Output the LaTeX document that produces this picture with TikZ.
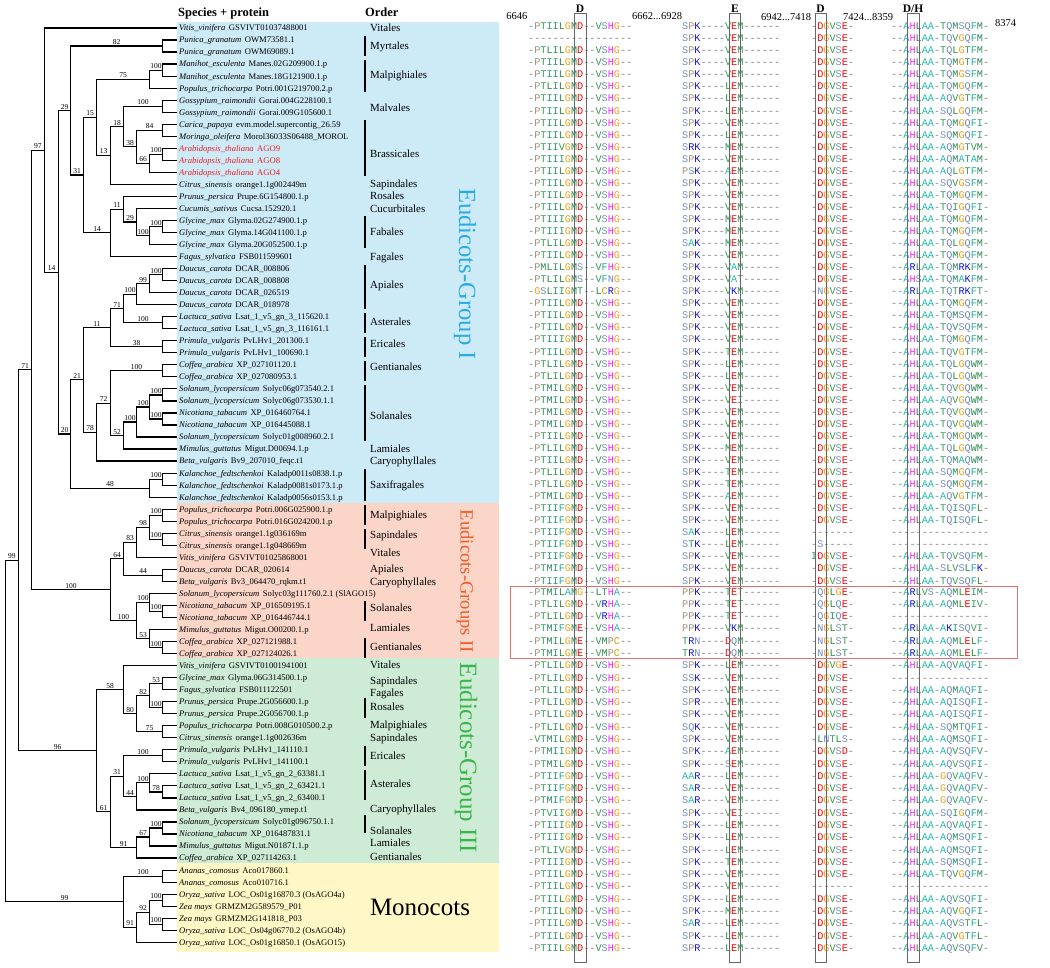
\documentclass[tikz,border=0pt]{standalone}
\usepackage{fontspec}
\setmainfont{Liberation Serif}
\newfontfamily\monofam{Liberation Mono}
\usetikzlibrary{calc}
\definecolor{bgI}{HTML}{CDEAF7}
\definecolor{bgII}{HTML}{FBD6C8}
\definecolor{bgIII}{HTML}{CEEBD6}
\definecolor{bgM}{HTML}{FFF8C6}
\definecolor{gI}{HTML}{29ABE2}
\definecolor{gII}{HTML}{F15A24}
\definecolor{gIII}{HTML}{39B54A}
\definecolor{redtxt}{HTML}{EE1C25}
\definecolor{hlbox}{HTML}{EE6E6E}
\definecolor{aagap}{HTML}{808080}
\definecolor{aaA}{HTML}{22BBAA}
\definecolor{aaC}{HTML}{D0A000}
\definecolor{aaD}{HTML}{FF0000}
\definecolor{aaE}{HTML}{FF0000}
\definecolor{aaF}{HTML}{22AA99}
\definecolor{aaG}{HTML}{F0A010}
\definecolor{aaH}{HTML}{FF22FF}
\definecolor{aaI}{HTML}{33996B}
\definecolor{aaK}{HTML}{1010F0}
\definecolor{aaL}{HTML}{2E8B3C}
\definecolor{aaM}{HTML}{2E8B57}
\definecolor{aaN}{HTML}{7088C0}
\definecolor{aaP}{HTML}{A09080}
\definecolor{aaQ}{HTML}{7088C0}
\definecolor{aaR}{HTML}{1010F0}
\definecolor{aaS}{HTML}{7890B8}
\definecolor{aaT}{HTML}{3A9A60}
\definecolor{aaV}{HTML}{3A9A50}
\definecolor{aaW}{HTML}{2E8B57}
\definecolor{aaY}{HTML}{22AA99}
\def\seq#1{\seqi#1\relax}
\def\seqi#1{\ifx\relax#1\else\colch#1\expandafter\seqi\fi}
\def\colch#1{\ifx-#1\textcolor{aagap}{-}\else\textcolor{aa#1}{#1}\fi}
\newcommand\tn[4]{\path let \p1=($(#3)!0.5!(#4)$) in coordinate (#1) at (#2pt,\y1);}
\newcommand\br[3]{\draw[tree] (#1) |- node[bs,pos=0.75]{#3} (#2);}
\newcommand\lf[2]{\draw[tree] (#1) |- (#2);}
\newcommand\pair[3]{\tn{#1}{162.5}{#2}{#3}\lf{#1}{#2}\lf{#1}{#3}}
\newcommand\spn[3]{\node[sp] (s#1) at (179,{28+(#1-1)*12.03+2.9}) {\textit{#2}\hspace{3.5pt}#3};}
\newcommand\spr[3]{\node[sp,text=redtxt] (s#1) at (179,{28+(#1-1)*12.03+2.9}) {\textit{#2}\hspace{3.5pt}#3};}
\newcommand\ay[1]{ifthenelse(#1<48,26.7+(#1-1)*12.05,592+(#1-48)*12.29)+3}
\newcommand\aln[5]{%
\node[al] (qa#1) at (528,{\ay{#1}}) {\seq{#2}};%
\node[al] (qb#1) at (682,{\ay{#1}}) {\seq{#3}};%
\node[al] (qc#1) at (811,{\ay{#1}}) {\seq{#4}};%
\node[al] (qd#1) at (891,{\ay{#1}}) {\seq{#5}};}
\begin{document}
\begin{tikzpicture}[x=1pt,y=-1pt,
 tree/.style={line width=1.2pt,line cap=rect},
 bs/.style={above,inner sep=0.8pt,font=\fontsize{7.5}{8}\selectfont},
 sp/.style={anchor=base west,inner sep=0,font=\fontsize{8.6}{9}\selectfont},
 ordst/.style={anchor=base west,inner sep=0,font=\fontsize{10.9}{12}\selectfont},
 obar/.style={line width=1.4pt},
 al/.style={anchor=base west,inner sep=0,font=\monofam\fontsize{10.2}{11}\selectfont},
 colbox/.style={draw=black!60,line width=0.9pt},
 hdr/.style={anchor=base,inner sep=0,font=\bfseries\fontsize{11.5}{12}\selectfont},
 num/.style={anchor=base west,inner sep=0,font=\fontsize{10.5}{11}\selectfont}]
\useasboundingbox (0,0) rectangle (1050,968);
\fill[white] (0,0) rectangle (1050,968);
% backgrounds
\fill[bgI] (177,22.5) rectangle (499,503);
\fill[bgII] (177,503) rectangle (499,658);
\fill[bgIII] (177,658) rectangle (499,863);
\fill[bgM] (177,863) rectangle (499,952);
% headers
\node[anchor=base west,inner sep=0,font=\bfseries\fontsize{12.5}{13}\selectfont] (h1) at (178,16.5) {Species + protein};
\node[anchor=base west,inner sep=0,font=\bfseries\fontsize{12.5}{13}\selectfont] (h2) at (365,16.5) {Order};
% leaves
\foreach \i in {1,...,77} {\coordinate (L\i) at (176,{28+(\i-1)*12.03});}
% pairs
\pair{P2}{L2}{L3}\pair{P4}{L4}{L5}\pair{P7}{L7}{L8}\pair{P9}{L9}{L10}
\pair{P11}{L11}{L12}\pair{P17}{L17}{L18}\pair{P21}{L21}{L22}\pair{P25}{L25}{L26}
\pair{P27}{L27}{L28}\pair{P29}{L29}{L30}\pair{P31}{L31}{L32}\pair{P33}{L33}{L34}
\pair{P38}{L38}{L39}\pair{P41}{L41}{L42}\pair{P43}{L43}{L44}\pair{P46}{L46}{L47}
\pair{P49}{L49}{L50}\pair{P52}{L52}{L53}\pair{P55}{L55}{L56}\pair{P57}{L57}{L58}
\pair{P59}{L59}{L60}\pair{P61}{L61}{L62}\pair{P64}{L64}{L65}\pair{P67}{L67}{L68}
\pair{P71}{L71}{L72}\pair{P73}{L73}{L74}\pair{P75}{L75}{L76}
% group I
\tn{N75}{149.5}{P4}{L6}\br{N75}{P4}{100}\lf{N75}{L6}
\tn{N66}{149.5}{P11}{L13}\br{N66}{P11}{100}\lf{N66}{L13}
\tn{N38}{136.5}{P9}{N66}\br{N38}{P9}{84}\br{N38}{N66}{66}
\tn{N18}{123.5}{P7}{N38}\br{N18}{P7}{100}\br{N18}{N38}{38}
\tn{N13}{110.5}{N18}{L14}\br{N13}{N18}{18}\lf{N13}{L14}
\tn{N15}{96.5}{N75}{N13}\br{N15}{N75}{75}\br{N15}{N13}{13}
\tn{N100c}{149.5}{P17}{L19}\br{N100c}{P17}{100}\lf{N100c}{L19}
\tn{N29b}{136.5}{L16}{N100c}\lf{N29b}{L16}\br{N29b}{N100c}{100}
\tn{N11}{123.5}{L15}{N29b}\lf{N11}{L15}\br{N11}{N29b}{29}
\tn{N14b}{110.5}{N11}{L20}\br{N14b}{N11}{11}\lf{N14b}{L20}
\tn{N31}{83.5}{N15}{N14b}\br{N31}{N15}{15}\br{N31}{N14b}{14}
\tn{N29}{70.5}{P2}{N31}\br{N29}{P2}{82}\br{N29}{N31}{31}
\tn{N99}{149.5}{P21}{L23}\br{N99}{P21}{100}\lf{N99}{L23}
\tn{N100d}{136.5}{N99}{L24}\br{N100d}{N99}{99}\lf{N100d}{L24}
\tn{N71}{123.5}{N100d}{P25}\br{N71}{N100d}{100}\br{N71}{P25}{100}
\tn{N11b}{110.5}{N71}{P27}\br{N11b}{N71}{71}\br{N11b}{P27}{38}
\tn{N100f}{149.5}{P31}{P33}\br{N100f}{P31}{100}\br{N100f}{P33}{100}
\tn{N100e}{136.5}{N100f}{L35}\br{N100e}{N100f}{100}\lf{N100e}{L35}
\tn{N52}{123.5}{N100e}{L36}\br{N52}{N100e}{100}\lf{N52}{L36}
\tn{N72}{110.5}{P29}{N52}\br{N72}{P29}{100}\br{N72}{N52}{52}
\tn{N78}{96.5}{N72}{L37}\br{N78}{N72}{72}\lf{N78}{L37}
\tn{N21}{83.5}{N11b}{N78}\br{N21}{N11b}{11}\br{N21}{N78}{78}
\tn{N48}{149.5}{P38}{L40}\br{N48}{P38}{100}\lf{N48}{L40}
\tn{N20}{70.5}{N21}{N48}\br{N20}{N21}{21}\br{N20}{N48}{48}
\tn{N14a}{58.5}{N29}{N20}\br{N14a}{N29}{29}\br{N14a}{N20}{20}
\tn{B}{44.5}{L1}{N14a}\lf{B}{L1}\br{B}{N14a}{14}
% group II
\tn{N98}{149.5}{P41}{P43}\br{N98}{P41}{100}\br{N98}{P43}{100}
\tn{N83}{136.5}{N98}{L45}\br{N83}{N98}{98}\lf{N83}{L45}
\tn{N64}{123.5}{N83}{P46}\br{N64}{N83}{83}\br{N64}{P46}{44}
\tn{N100i}{149.5}{L48}{P49}\lf{N100i}{L48}\br{N100i}{P49}{100}
\tn{N53}{149.5}{L51}{P52}\lf{N53}{L51}\br{N53}{P52}{100}
\tn{N100h}{136.5}{N100i}{N53}\br{N100h}{N100i}{100}\br{N100h}{N53}{53}
\tn{N100g}{110.5}{N64}{N100h}\br{N100g}{N64}{64}\br{N100g}{N100h}{100}
\tn{A}{31.5}{B}{N100g}\br{A}{B}{97}\br{A}{N100g}{100}
% group III
\tn{N82}{149.5}{P55}{P57}\br{N82}{P55}{53}\br{N82}{P57}{100}
\tn{N80}{136.5}{N82}{P59}\br{N80}{N82}{82}\br{N80}{P59}{75}
\tn{N58}{123.5}{L54}{N80}\lf{N58}{L54}\br{N58}{N80}{80}
\tn{N100j}{149.5}{L63}{P64}\lf{N100j}{L63}\br{N100j}{P64}{78}
\tn{N44}{136.5}{N100j}{L66}\br{N44}{N100j}{100}\lf{N44}{L66}
\tn{N31b}{123.5}{P61}{N44}\br{N31b}{P61}{100}\br{N31b}{N44}{44}
\tn{N67}{149.5}{P67}{L69}\br{N67}{P67}{100}\lf{N67}{L69}
\tn{N91}{136.5}{N67}{L70}\br{N91}{N67}{67}\lf{N91}{L70}
\tn{N61}{110.5}{N31b}{N91}\br{N61}{N31b}{31}\br{N61}{N91}{91}
\tn{N96}{96.5}{N58}{N61}\br{N96}{N58}{58}\br{N96}{N61}{61}
\tn{C}{18.5}{A}{N96}\br{C}{A}{71}\br{C}{N96}{96}
% monocots
\tn{N92}{149.5}{P73}{P75}\br{N92}{P73}{100}\br{N92}{P75}{100}
\tn{N91b}{136.5}{N92}{L77}\br{N91b}{N92}{92}\lf{N91b}{L77}
\tn{N99b}{123.5}{P71}{N91b}\br{N99b}{P71}{100}\br{N99b}{N91b}{91}
\tn{R}{5.5}{C}{N99b}\br{R}{C}{99}\br{R}{N99b}{99}
% species
\spn{1}{Vitis\_vinifera}{GSVIVT01037488001}
\spn{2}{Punica\_granatum}{OWM73581.1}
\spn{3}{Punica\_granatum}{OWM69089.1}
\spn{4}{Manihot\_esculenta}{Manes.02G209900.1.p}
\spn{5}{Manihot\_esculenta}{Manes.18G121900.1.p}
\spn{6}{Populus\_trichocarpa}{Potri.001G219700.2.p}
\spn{7}{Gossypium\_raimondii}{Gorai.004G228100.1}
\spn{8}{Gossypium\_raimondii}{Gorai.009G105600.1}
\spn{9}{Carica\_papaya}{evm.model.supercontig\_26.59}
\spn{10}{Moringa\_oleifera}{Morol36033S06488\_MOROL}
\spr{11}{Arabidopsis\_thaliana}{AGO9}
\spr{12}{Arabidopsis\_thaliana}{AGO8}
\spr{13}{Arabidopsis\_thaliana}{AGO4}
\spn{14}{Citrus\_sinensis}{orange1.1g002449m}
\spn{15}{Prunus\_persica}{Prupe.6G154800.1.p}
\spn{16}{Cucumis\_sativus}{Cucsa.152920.1}
\spn{17}{Glycine\_max}{Glyma.02G274900.1.p}
\spn{18}{Glycine\_max}{Glyma.14G041100.1.p}
\spn{19}{Glycine\_max}{Glyma.20G052500.1.p}
\spn{20}{Fagus\_sylvatica}{FSB011599601}
\spn{21}{Daucus\_carota}{DCAR\_008806}
\spn{22}{Daucus\_carota}{DCAR\_008808}
\spn{23}{Daucus\_carota}{DCAR\_026519}
\spn{24}{Daucus\_carota}{DCAR\_018978}
\spn{25}{Lactuca\_sativa}{Lsat\_1\_v5\_gn\_3\_115620.1}
\spn{26}{Lactuca\_sativa}{Lsat\_1\_v5\_gn\_3\_116161.1}
\spn{27}{Primula\_vulgaris}{PvLHv1\_201300.1}
\spn{28}{Primula\_vulgaris}{PvLHv1\_100690.1}
\spn{29}{Coffea\_arabica}{XP\_027101120.1}
\spn{30}{Coffea\_arabica}{XP\_027080953.1}
\spn{31}{Solanum\_lycopersicum}{Solyc06g073540.2.1}
\spn{32}{Solanum\_lycopersicum}{Solyc06g073530.1.1}
\spn{33}{Nicotiana\_tabacum}{XP\_016460764.1}
\spn{34}{Nicotiana\_tabacum}{XP\_016445088.1}
\spn{35}{Solanum\_lycopersicum}{Solyc01g008960.2.1}
\spn{36}{Mimulus\_guttatus}{Migut.D00694.1.p}
\spn{37}{Beta\_vulgaris}{Bv9\_207010\_feqc.t1}
\spn{38}{Kalanchoe\_fedtschenkoi}{Kaladp0011s0838.1.p}
\spn{39}{Kalanchoe\_fedtschenkoi}{Kaladp0081s0173.1.p}
\spn{40}{Kalanchoe\_fedtschenkoi}{Kaladp0056s0153.1.p}
\spn{41}{Populus\_trichocarpa}{Potri.006G025900.1.p}
\spn{42}{Populus\_trichocarpa}{Potri.016G024200.1.p}
\spn{43}{Citrus\_sinensis}{orange1.1g036169m}
\spn{44}{Citrus\_sinensis}{orange1.1g048669m}
\spn{45}{Vitis\_vinifera}{GSVIVT01025868001}
\spn{46}{Daucus\_carota}{DCAR\_020614}
\spn{47}{Beta\_vulgaris}{Bv3\_064470\_rqkm.t1}
\spn{48}{Solanum\_lycopersicum}{Solyc03g111760.2.1 (SlAGO15)}
\spn{49}{Nicotiana\_tabacum}{XP\_016509195.1}
\spn{50}{Nicotiana\_tabacum}{XP\_016446744.1}
\spn{51}{Mimulus\_guttatus}{Migut.O00200.1.p}
\spn{52}{Coffea\_arabica}{XP\_027121988.1}
\spn{53}{Coffea\_arabica}{XP\_027124026.1}
\spn{54}{Vitis\_vinifera}{GSVIVT01001941001}
\spn{55}{Glycine\_max}{Glyma.06G314500.1.p}
\spn{56}{Fagus\_sylvatica}{FSB011122501}
\spn{57}{Prunus\_persica}{Prupe.2G056600.1.p}
\spn{58}{Prunus\_persica}{Prupe.2G056700.1.p}
\spn{59}{Populus\_trichocarpa}{Potri.008G010500.2.p}
\spn{60}{Citrus\_sinensis}{orange1.1g002636m}
\spn{61}{Primula\_vulgaris}{PvLHv1\_141110.1}
\spn{62}{Primula\_vulgaris}{PvLHv1\_141100.1}
\spn{63}{Lactuca\_sativa}{Lsat\_1\_v5\_gn\_2\_63381.1}
\spn{64}{Lactuca\_sativa}{Lsat\_1\_v5\_gn\_2\_63421.1}
\spn{65}{Lactuca\_sativa}{Lsat\_1\_v5\_gn\_2\_63400.1}
\spn{66}{Beta\_vulgaris}{Bv4\_096180\_ymep.t1}
\spn{67}{Solanum\_lycopersicum}{Solyc01g096750.1.1}
\spn{68}{Nicotiana\_tabacum}{XP\_016487831.1}
\spn{69}{Mimulus\_guttatus}{Migut.N01871.1.p}
\spn{70}{Coffea\_arabica}{XP\_027114263.1}
\spn{71}{Ananas\_comosus}{Aco017860.1}
\spn{72}{Ananas\_comosus}{Aco010716.1}
\spn{73}{Oryza\_sativa}{LOC\_Os01g16870.3 (OsAGO4a)}
\spn{74}{Zea mays}{GRMZM2G589579\_P01}
\spn{75}{Zea mays}{GRMZM2G141818\_P03}
\spn{76}{Oryza\_sativa}{LOC\_Os04g06770.2 (OsAGO4b)}
\spn{77}{Oryza\_sativa}{LOC\_Os01g16850.1 (OsAGO15)}
% orders
\foreach \k/\yy/\t in {1/28/Vitales,2/46/Myrtales,3/75/Malpighiales,4/108/Malvales,5/154/Brassicales,6/184/Sapindales,7/196/Rosales,8/209/Cucurbitales,9/232/Fabales,10/257/Fagales,11/285/Apiales,12/322/Asterales,13/344/Ericales,14/367/Gentianales,15/416/Solanales,16/449/Lamiales,17/461/Caryophyllales,18/485/Saxifragales,19/515/Malpighiales,20/535/Sapindales,21/553/Vitales,22/569/Apiales,23/582/Caryophyllales,24/608/Solanales,25/628/Lamiales,26/647/Gentianales,27/665/Vitales,28/681/Sapindales,29/693/Fagales,30/707/Rosales,31/725/Malpighiales,32/738/Sapindales,33/756/Ericales,34/784/Asterales,35/809/Caryophyllales,36/831/Solanales,37/843/Lamiales,38/857/Gentianales}
 {\node[ordst] (o\k) at (370,\yy+3.7) {\t};}
\foreach \a/\b in {36/56,60/92,120/176,216.5/248.5,264.6/308.7,312.7/332.8,336.8/356.8,360.8/380.9,384.9/441,469/501,505/525,529/549,601/621,637.5/657.6,697.7/717.7,745.9/765.9,770/800,815/833}
 {\draw[obar] (365,\a) -- (365,\b);}
% group labels
\node[rotate=-90,text=gI,inner sep=0,font=\fontsize{24.6}{26}\selectfont] (gl1) at (465,274) {Eudicots-Group I};
\node[rotate=-90,text=gII,inner sep=0,font=\fontsize{18.6}{20}\selectfont] (gl2) at (465,581.5) {Eudicots-Groups II};
\node[rotate=-90,text=gIII,inner sep=0,font=\fontsize{24.9}{26}\selectfont] (gl3) at (466,758) {Eudicots-Group III};
\node[inner sep=0,font=\fontsize{25}{27}\selectfont] (gl4) at (420,907) {Monocots};
% alignment headers
\node[hdr] (hd1) at (580,12.5) {D};
\node[hdr] (hd2) at (735,12.5) {E};
\node[hdr] (hd3) at (820.5,12.5) {D};
\node[hdr] (hd4) at (913,12.5) {D/H};
\node[num,anchor=base east] (n1) at (527.5,19.3) {6646};
\node[num] (n2) at (632,19.3) {6662...6928};
\node[num] (n3) at (761,20.5) {6942...7418};
\node[num] (n4) at (843,21) {7424...8359};
\node[num] (n5) at (995,27) {8374};
% alignment
\aln{1}{-PTIILGMD--VSHG--}{SPK----VEM------}{-DGVSE-}{--AHLAA-TQMSQFM-}
\aln{2}{-----------------}{SPK----VEM------}{-DGVSE-}{--AHLAA-TQVGQFM-}
\aln{3}{-PTLILGMD--VSHG--}{SPK----VEM------}{-DGVSE-}{--AHLAA-TQLGTFM-}
\aln{4}{-PTIILGMD--VSHG--}{SPK----VEM------}{-DGVSE-}{--AHLAA-TQMGTFM-}
\aln{5}{-PTIILGMD--VSHG--}{SPK----VEM------}{-DGVSE-}{--AHLAA-TQMGSFM-}
\aln{6}{-PTLILGMD--VSHG--}{SPK----LEM------}{-DGVSE-}{--AHLAA-TQMGQFM-}
\aln{7}{-PTIILGMD--VSHG--}{SPK----LEM------}{-DGVSE-}{--AHLAA-AQVGTFM-}
\aln{8}{-PTIILGMD--VSHG--}{SPK----LEM------}{-DGVSE-}{--AHLAA-SQLGQFM-}
\aln{9}{-PTIILGMD--VSHG--}{SPK----VEM------}{-DGVSE-}{--AHLAA-TQMGQFI-}
\aln{10}{-PTIILGMD--VSHG--}{SPK----LEM------}{-DGVSE-}{--AHLAA-SQMGQFI-}
\aln{11}{-PTIIVGMD--VSHG--}{SRK----MEM------}{-DGVSE-}{--AHLAA-AQMGTVM-}
\aln{12}{-PTIIIGMD--VSHG--}{SPK----VEM------}{-DGVSE-}{--AHLAA-AQMATAM-}
\aln{13}{-PTIILGMD--VSHG--}{PSK----AEM------}{-DGVSE-}{--AHLAA-AQLGTFM-}
\aln{14}{-PTIILGMD--VSHG--}{SPK----VEM------}{-DGVSE-}{--AHLAA-SQVGSFM-}
\aln{15}{-PTIILGMD--VSHG--}{SPK----VEM------}{-DGVSE-}{--AHLAA-TQMGQFM-}
\aln{16}{-PTIILGMD--VSHG--}{SPK----VEM------}{-DGVSE-}{--AHLAA-TQIGQFI-}
\aln{17}{-PTIIIGMD--VSHG--}{SPK----MEM------}{-DGVSE-}{--AHLAA-TQMGQFM-}
\aln{18}{-PTIIIGMD--VSHG--}{SPK----MEM------}{-DGVSE-}{--AHLAA-TQMGQFM-}
\aln{19}{-PTLILGMD--VSHG--}{SAK----MEM------}{-DGVSE-}{--AHLAA-TQLGQFM-}
\aln{20}{-PTIILGMD--VSHG--}{SPK----VEM------}{-DGVSE-}{--AHLAA-TQMGQFM-}
\aln{21}{-PMLILGMS--VFHG--}{SPK----VAM------}{-DGVSE-}{--ARLAA-TQMRKFM-}
\aln{22}{-PTLILGMS--VFNG--}{SPK----VAT------}{-DGVSE-}{--AHSAA-TQMAKFM-}
\aln{23}{-GSLIIGMT--LCRG--}{SPK----VKM------}{-NGVSE-}{--ARLAA-TQTRKFT-}
\aln{24}{-PTIILGMD--VSHG--}{SPK----VEM------}{-DGVSE-}{--AHLAA-TQMGQFM-}
\aln{25}{-PTIILGMD--VSHG--}{SPK----VEM------}{-DGVSE-}{--AHLAA-TQMSQFM-}
\aln{26}{-PTIILGMD--VSHG--}{SPK----VEM------}{-DGVSE-}{--AHLAA-TQVSQFM-}
\aln{27}{-PTIIIGMD--VSHG--}{SPK----VEM------}{-DGVSE-}{--AHLAA-TQMGQFM-}
\aln{28}{-PTIILGMD--VSHG--}{SPK----TEM------}{-DGVSE-}{--AHLAA-TQVGTFM-}
\aln{29}{-PTLILGMD--VSHG--}{SPK----LEM------}{-DGVSE-}{--AHLAA-TQLGQWM-}
\aln{30}{-PTLILGMD--VSHG--}{SPK----LEM------}{-DGVSE-}{--AHLAA-TQLGQWM-}
\aln{31}{-PTMILGMD--VSHG--}{SPK----VEM------}{-DGVSE-}{--AHLAA-TQVGQWM-}
\aln{32}{-PTMILGMD--VSHG--}{SPK----VEI------}{-DGVSE-}{--AHLAA-AQVGQWM-}
\aln{33}{-PTMILGMD--VSHG--}{SPK----VEM------}{-DGVSE-}{--AHLAA-TQVGQWM-}
\aln{34}{-PTMILGMD--VSHG--}{SPK----VEM------}{-DGVSE-}{--AHLAA-TQVGQWM-}
\aln{35}{-PTIILGMD--VSHG--}{SPK----VEM------}{-DGVSE-}{--AHLAA-TQMGQWM-}
\aln{36}{-PTLILGMD--VSHG--}{SPK----MEM------}{-DGVSE-}{--AHLAA-TQLGQWM-}
\aln{37}{-PTIILGMD--VSHG--}{SPK----VEM------}{-DGVSE-}{--AHLAA-TQMAQWM-}
\aln{38}{-PTLILGMD--VSHG--}{SPK----TEM------}{-DGVSE-}{--AHLAA-SQMGQFM-}
\aln{39}{-PTLILGMD--VSHG--}{SPK----TEM------}{-DGVSE-}{--AHLAA-SQMGQFM-}
\aln{40}{-PTMILGMD--VSHG--}{SPK----AEM------}{-DGVSE-}{--AHLAA-AQVGTFM-}
\aln{41}{-PTIIFGMD--VSHG--}{SPK----VEM------}{-DGVSE-}{--AHLAA-TQISQFL-}
\aln{42}{-PTIIFGMD--VSHG--}{SPK----VEM------}{-DGVSE-}{--AHLAA-TQISQFL-}
\aln{43}{-PTIIFGMD--VSHG--}{SAK----LEM------}{-------}{----------------}
\aln{44}{-PTIIFGMD--VSHG--}{STK----LEM------}{-S-----}{----------------}
\aln{45}{-PTIIFGMD--VSHG--}{SPK----VEM------}{IDGVSE-}{--AHLAA-TQVSQFM-}
\aln{46}{-PTMIFGMD--VSHG--}{SPK----VEM------}{-DGVSE-}{--AHLAA-SLVSLFK-}
\aln{47}{-PTIIFGMD--VSHG--}{SPK----VEM------}{-DGVSE-}{--AHLAA-TQVSQFL-}
\aln{48}{-PTMILAMG--LTHA--}{PPK----TET------}{-QGLGE-}{--ARLVS-AQMLEIM-}
\aln{49}{-PTLILGMD--VRHA--}{PPK----TET------}{-QGLQE-}{--ARLAA-AQMLEIV-}
\aln{50}{-PTLILGMD--VRHA--}{PPK----TET------}{-QGIQE-}{----------------}
\aln{51}{-PTMIFGME--VSHA--}{PPK----VKM------}{-NGLST-}{--ARLAA-AKISQVI-}
\aln{52}{-PTMILGME--VMPC--}{TRN----DQM------}{-NGLST-}{--ARLAA-AQMLELF-}
\aln{53}{-PTMILGME--VMPC--}{TRN----DQM------}{-NGLST-}{--ARLAA-AQMLELF-}
\aln{54}{-PTLILGMD--VSHG--}{SPK----LEM------}{-DGVGE-}{--AHLAA-AQVAQFI-}
\aln{55}{-PTLILGMD--VSHG--}{SSK----VEM------}{-DGVSE-}{----------------}
\aln{56}{-PTLILGMD--VSHG--}{SPK----VEM------}{-DGVSE-}{--AHLAA-AQMAQFI-}
\aln{57}{-PTLILGMD--VSHG--}{SPR----VEM------}{-DGVSE-}{--AHLAA-AQISQFI-}
\aln{58}{-PTLILGMD--VSHG--}{SPK----VEM------}{-DGVSE-}{--AHLAA-AQISQFI-}
\aln{59}{-PTLILGMD--VSHG--}{SQK----VEM------}{-DGVSE-}{--AHLAA-SQMTQFI-}
\aln{60}{-VTMILGMD--VSHG--}{SPK----VEM------}{-LNTLS-}{--AHLAA-AQMSQFI-}
\aln{61}{-PTMIIGMD--VSHG--}{SPK----AEM------}{-DGVSD-}{--AHLAA-AQVSQFV-}
\aln{62}{-PTMILGMD--VSHG--}{SPK----SEM------}{-DGVSE-}{--AHLAA-AQVSQFI-}
\aln{63}{-PTIIFGMD--VSHG--}{AAR----LEM------}{-DGVSE-}{--AHLAA-GQVAQFV-}
\aln{64}{-PTIIFGMD--VSHG--}{SAR----VEM------}{-DGVSE-}{--AHLAA-GQVAQFV-}
\aln{65}{-PTMIFGMD--VSHG--}{SAR----VEM------}{-DGVSE-}{--AHLAA-GQVAQFV-}
\aln{66}{-PTVIIGMD--VSHG--}{SPK----VEI------}{-DGVSE-}{--AHLAA-SQIGQFM-}
\aln{67}{-PTIIIGMD--VSHG--}{SPK----LEM------}{-DGVSE-}{--AHLAA-AQVAQFI-}
\aln{68}{-PTIIIGMD--VSHG--}{SPK----LEM------}{-DGVSE-}{--AHLAA-AQMSQFI-}
\aln{69}{-PTLIVGMD--VSHG--}{SPK----LEM------}{-DGVSE-}{--AHLAA-AQMSQFI-}
\aln{70}{-PTIIIGMD--VSHG--}{SPK----TEM------}{-DGVSE-}{--AHLAA-SQMSQFI-}
\aln{71}{-PTIILGMD--VSHG--}{SPK----VEM------}{-DGVSE-}{--AHLAA-TQVGQFM-}
\aln{72}{-PTIILGMD--VSHG--}{SPK----VEM------}{-------}{----------------}
\aln{73}{-PTIILGMD--VSHG--}{SPK----LEM------}{-DGVSE-}{--AHLAA-AQVSQFI-}
\aln{74}{-PTIILGMD--VSHG--}{SPK----MEM------}{-DGVSE-}{--AHLAA-AQVGQFI-}
\aln{75}{-PTIILGMD--VSHG--}{SAR----LEM------}{-DGVSE-}{--AHLAA-AQVSTFL-}
\aln{76}{-PTIILGMD--VSHG--}{SPK----LEM------}{-DGVSE-}{--AHLAA-AQVGTFL-}
\aln{77}{-PTIILGMD--VSHG--}{SPR----LEM------}{-DGVSE-}{--AHLAA-AQVSQFV-}
% column boxes
\draw[colbox] (574,13) rectangle (586,962);
\draw[colbox] (729,13) rectangle (740.7,962);
\draw[colbox] (815,13) rectangle (826,962);
\draw[colbox] (907,13) rectangle (919,962);
% highlight box
\draw[draw=hlbox,line width=1pt] (510,586) rectangle (1017,658);
\end{tikzpicture}
\end{document}
